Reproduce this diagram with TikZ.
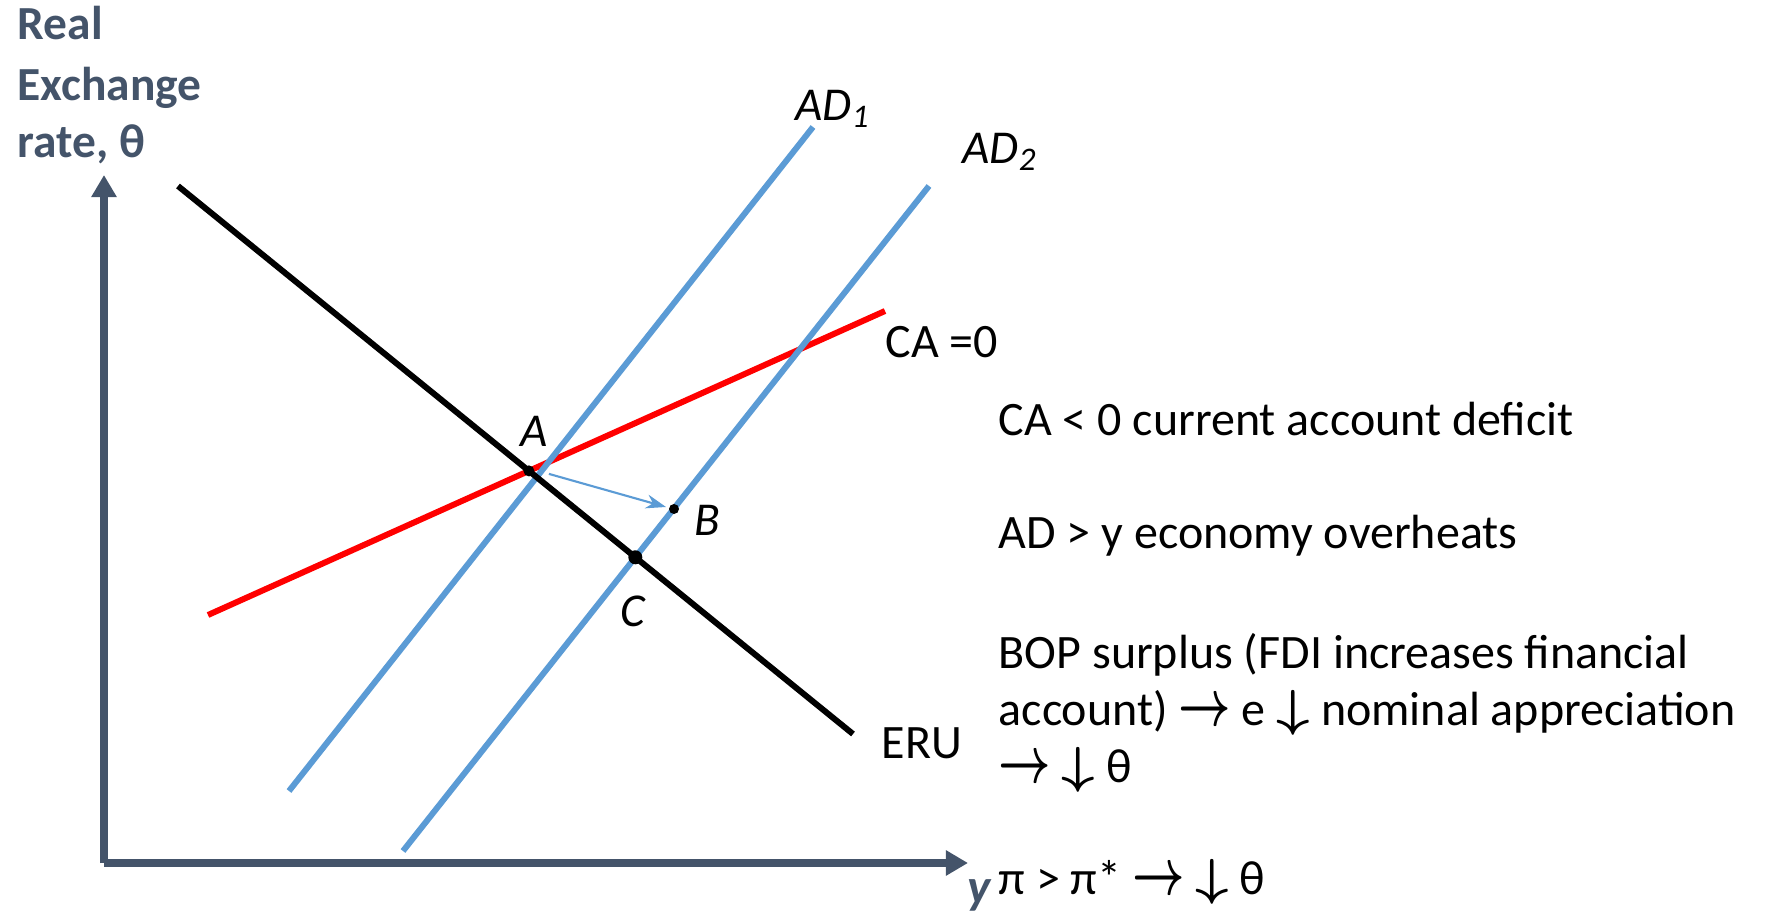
\documentclass[tikz,border=0pt]{standalone}
\usepackage{fontspec}
\setmainfont{Carlito}
\usepackage{graphicx}
\usepackage{tikz}
\usetikzlibrary{arrows.meta,calc,intersections}
\definecolor{axisgray}{HTML}{44546A}
\definecolor{adblue}{HTML}{5B9BD5}
\definecolor{cared}{HTML}{FF0000}
\newcommand{\rarr}{\smash{\scalebox{0.9}[1.3]{\boldmath$\rightarrow$}}}
\newcommand{\darr}{\smash{\scalebox{1.15}[1]{\boldmath$\downarrow$}}}

\begin{document}
\begin{tikzpicture}[x=0.01cm,y=0.01cm,
  axisline/.style={draw=axisgray,line width=2pt,-{Triangle[length=0.22cm,width=0.24cm]}},
  curve/.style={line width=1.7pt},
  txt/.style={anchor=west,inner sep=0pt,font=\fontsize{13.65}{16.2}\selectfont},
  ptlbl/.style={inner sep=0pt,font=\fontsize{13.4}{16}\selectfont\itshape},
  ttl/.style={anchor=base west,inner sep=0pt,text=axisgray,font=\fontsize{13.5}{16}\selectfont\bfseries}]
  \useasboundingbox (0,0) rectangle (1765,917);
  \coordinate (O) at (104,54);
  \coordinate (ytip) at (104,742);
  \coordinate (xtip) at (968,54);
  \draw[axisline] (O) -- (ytip);
  \draw[axisline] (O) -- (xtip);
  \node[ttl] (ttl1) at (17,877) {Real};
  \node[ttl] (ttl2) at (17,817) {Exchange};
  \node[ttl] (ttl3) at (17,760) {rate, θ};
  \node[inner sep=0pt,text=axisgray,font=\fontsize{14}{16}\selectfont\bfseries\itshape] (ylbl) at (979,22) {y};
  % curves
  \draw[curve,cared,name path=ca] (208,302) -- (885,606);
  \draw[curve,adblue,name path=ad1] (289,126) -- (813,790);
  \draw[curve,adblue,name path=ad2] (403,66) -- (929,731);
  \draw[curve,black,name path=eru] (178,731) -- (853,183);
  \path[name intersections={of=eru and ca,by=A}];
  \path[name intersections={of=eru and ad2,by=C}];
  \coordinate (B) at (674,408);
  \fill (A) circle (0.055cm);
  \fill (B) circle (0.05cm);
  \fill (C) circle (0.07cm);
  \draw[adblue,line width=0.6pt,-{Stealth[length=0.2cm,width=0.14cm]}] ($(A)+(20,-3)$) -- ($(B)+(-8,2)$);
  \node[ptlbl] (lA) at (534,486) {A};
  \node[ptlbl] (lB) at (707,397) {B};
  \node[ptlbl] (lC) at (633,306) {C};
  \node[ptlbl] (lad1) at (833,808) {AD\textsubscript{1}};
  \node[ptlbl] (lad2) at (1000,765) {AD\textsubscript{2}};
  \node[txt] (lca) at (885,575) {CA =0};
  \node[txt] (leru) at (881,174) {ERU};
  % notes
  \node[txt] (n1) at (998,498) {CA < 0 current account deficit};
  \node[txt] (n2) at (998,381) {AD > y economy overheats};
  \node[txt,align=left] (n3) at (998,209) {BOP surplus (FDI increases financial\\
    account) \rarr\ e \darr\ nominal appreciation\\
    \rarr\ \darr\ θ};
  \node[txt] (n4) at (998,39) {π > π* \rarr\ \darr\ θ};
\end{tikzpicture}
\end{document}
